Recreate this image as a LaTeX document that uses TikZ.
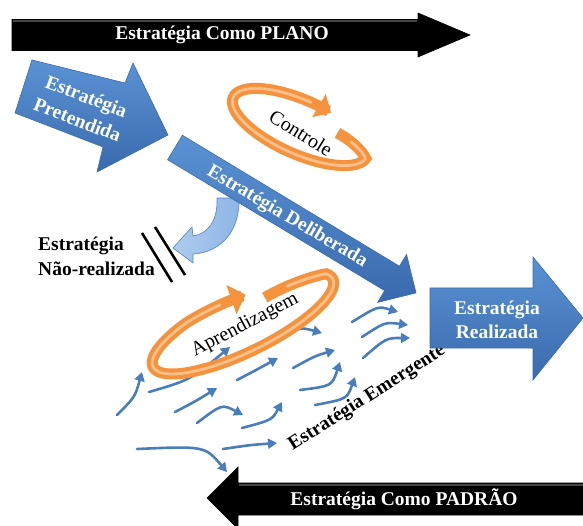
\documentclass[tikz,border=0pt]{standalone}
\usepackage{fontspec}
\setmainfont{Liberation Serif}
\usetikzlibrary{arrows.meta}
\definecolor{blueL}{HTML}{5A92D4}
\definecolor{blueD}{HTML}{3A6AAE}
\definecolor{blueE}{HTML}{4A7EBB}
\definecolor{skyF}{HTML}{8DB5E6}
\definecolor{skyD}{HTML}{5A8BCB}
\definecolor{orM}{HTML}{F5923E}
\definecolor{orH}{HTML}{FBC08A}
\begin{document}
\begin{tikzpicture}[x=1pt,y=-1pt,
  declare function={rsc(\q,\qa,\sa,\qb,\sb)=min(1,\sa+(1-\sa)*(\q-(\qa))/40,\sb+(1-\sb)*((\qb)-\q)/40);},
  txt/.style={font=\bfseries\fontsize{19.5}{25}\selectfont, inner sep=0pt, align=center},
  wtxt/.style={txt, text=white},
  ktxt/.style={txt, text=black},
  rtxt/.style={font=\fontsize{20}{24}\selectfont, inner sep=0pt, text=black},
  bluearrow/.style={top color=blueL, bottom color=blueD, draw=blueD, line width=0.6pt},
  blackarrow/.style={fill=black, draw=black, line width=0.6pt},
  emg/.style={draw=blueE, line width=2.6pt, line cap=round, -{Triangle[length=9pt,width=10pt]}},
  ringband/.style={draw=orM, line width=11pt},
  ringgloss/.style={draw=orH, line width=2.8pt, line cap=round},
  hatch/.style={draw=black, line width=2.6pt}
]
\useasboundingbox (0,0) rectangle (583,526);
\clip (0,0) rectangle (583,526);

% top black arrow: strategy as plan
\path[blackarrow] (12,19.5) -- (418,19.5) -- (418,13) -- (470,35) -- (418,57) -- (418,50.5) -- (12,50.5) -- cycle;
\draw[gray!55!black, line width=1.2pt] (13,21) -- (417,21);
\node[wtxt] (plano) at (222,35) {Estratégia Como PLANO};

% bottom black arrow: strategy as pattern
\path[blackarrow] (600,483) -- (238,483) -- (238,467) -- (207,498) -- (238,529) -- (238,515) -- (600,515) -- cycle;
\draw[gray!55!black, line width=1.2pt] (239,485) -- (590,485);
\node[wtxt] (padrao) at (404,499) {Estratégia Como PADRÃO};

% intended strategy
\path[bluearrow] (32,60) -- (125,83) -- (133,63) -- (168,135) -- (97,172) -- (103,147) -- (15,113) -- cycle;
\node[wtxt, rotate=-21] (pret) at (82,108) {Estratégia\\Pretendida};

% unrealized branch (curved arrow)
\path[left color=skyF!70!white, right color=skyF, draw=skyD, line width=0.7pt]
  (239,198) .. controls (240,236) and (216,253) .. (193,254)
  -- (193,263) -- (173,248) -- (192,227) -- (193,236)
  .. controls (207,234) and (218,222) .. (217,198) -- cycle;

% deliberate strategy
\begin{scope}[shift={(175,147.5)}, rotate=-31.1]
  \path[bluearrow] (0,-14.3) -- (253.5,-14.3) -- (253.5,-28) -- (281.5,0)
    -- (253.5,28) -- (253.5,14.3) -- (0,14.3) -- cycle;
\end{scope}
\node[wtxt, rotate=-30.5] (delib) at (287,217) {Estratégia Deliberada};

% break marks
\draw[hatch] (142,233) -- (172,282);
\draw[hatch] (155,227) -- (185,275);
\node[ktxt, align=left, anchor=west] (naor) at (38,256.5) {Estratégia\\Não-realizada};

% control loop
\draw[ringband, -{Triangle[length=14pt,width=26pt]}]
  plot[domain=-36:288, samples=90, smooth, variable=\t]
  ({300 + rsc(\t,-36,0.62,288,1)*(73*cos(\t)*cos(24) - 27*sin(\t)*sin(24))},
   {127 + rsc(\t,-36,0.62,288,1)*(73*cos(\t)*sin(24) + 27*sin(\t)*cos(24))});
\draw[ringgloss]
  plot[domain=-20:270, samples=80, smooth, variable=\t]
  ({300 + rsc(\t,-36,0.62,288,1)*(73*cos(\t)*cos(24) - 27*sin(\t)*sin(24))},
   {127 + rsc(\t,-36,0.62,288,1)*(73*cos(\t)*sin(24) + 27*sin(\t)*cos(24))});
\node[rtxt, rotate=-32] (ctrl) at (301,133) {Controle};

% emergent strategies
\draw[emg] (117,415) .. controls (135,397) .. (142,372);
\draw[emg] (149,392) .. controls (190,380) .. (230,347);
\draw[emg] (175,412) .. controls (196,401) .. (217,388);
\draw[emg] (197,423) .. controls (222,404) .. (243,415);
\draw[emg] (237,380) .. controls (258,369) .. (278,358);
\draw[emg] (242,428) .. controls (272,420) .. (282,402);
\draw[emg] (223,449) .. controls (250,445) .. (277,443);
\draw[emg] (137,449) .. controls (205,446) .. (227,472);
\draw[emg] (277,340) .. controls (300,327) .. (322,333);
\draw[emg] (293,368) .. controls (315,356) .. (335,350);
\draw[emg] (300,390) .. controls (332,386) .. (340,362);
\draw[emg] (315,405) .. controls (347,399) .. (355,377);
\draw[emg] (352,322) .. controls (378,306) .. (398,312);
\draw[emg] (362,337) .. controls (385,322) .. (408,325);
\draw[emg] (363,358) .. controls (386,338) .. (410,338);

% learning loop
\draw[ringband, -{Triangle[length=15pt,width=30pt]}]
  plot[domain=-56:280, samples=100, smooth, variable=\t]
  ({243 + rsc(\t,-56,0.55,280,0.85)*(100*cos(\t)*cos(-26) - 29*sin(\t)*sin(-26))},
   {323 + rsc(\t,-56,0.55,280,0.85)*(100*cos(\t)*sin(-26) + 29*sin(\t)*cos(-26))});
\draw[ringgloss]
  plot[domain=-40:262, samples=90, smooth, variable=\t]
  ({243 + rsc(\t,-56,0.55,280,0.85)*(100*cos(\t)*cos(-26) - 29*sin(\t)*sin(-26))},
   {323 + rsc(\t,-56,0.55,280,0.85)*(100*cos(\t)*sin(-26) + 29*sin(\t)*cos(-26))});
\node[rtxt, rotate=27.7] (apr) at (245,325) {Aprendizagem};

\node[ktxt, rotate=32.5] (emer) at (367,398) {Estratégia Emergente};

% realized strategy
\path[bluearrow] (430,288) -- (533,288) -- (533,257) -- (583,318) -- (533,380) -- (533,348) -- (430,348) -- cycle;
\node[wtxt, font=\bfseries\fontsize{19.5}{24}\selectfont] (real) at (497,320) {Estratégia\\Realizada};
\end{tikzpicture}
\end{document}
